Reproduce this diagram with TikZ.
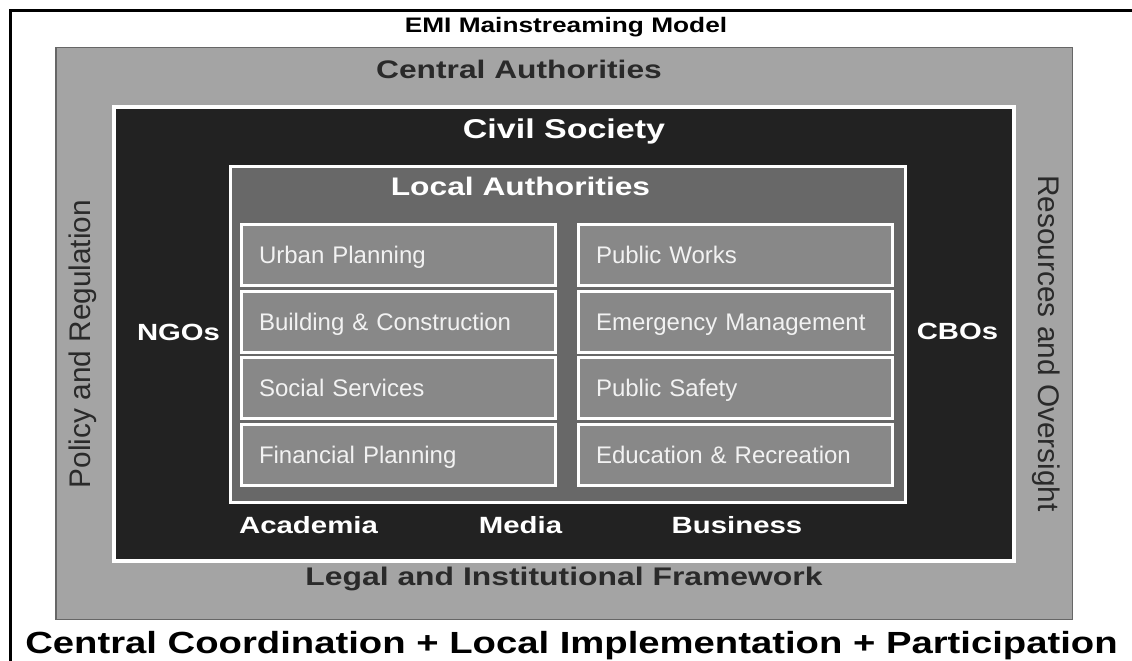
\documentclass[tikz,border=0pt]{standalone}
\usepackage{fontspec}
\setmainfont{Liberation Sans}
\newfontfamily\widebf{Liberation Sans}[FakeStretch=1.25]

\definecolor{frame}{HTML}{A4A4A4}
\definecolor{civil}{HTML}{222222}
\definecolor{local}{HTML}{686868}
\definecolor{unit}{HTML}{888888}
\definecolor{ink}{HTML}{2A2A2A}
\newcommand{\fsz}[1]{\fontsize{#1}{#1}\selectfont}

\tikzset{
	heading/.style={anchor=base, inner sep=0pt, font=\widebf\bfseries\fsz{#1}},
	side/.style={anchor=base, inner sep=0pt, text=ink, font=\fsz{29.8}},
	unitbox/.style={draw=white, line width=3pt, fill=unit, text=white!95!black,
		minimum height=61pt, text width=279pt, inner xsep=17.5pt, inner ysep=0pt,
		text height=17.3pt, text depth=0pt, align=left, font=\fsz{24}}
}

\begin{document}
\begin{tikzpicture}[x=1pt,y=-1pt]
	\useasboundingbox (0,0) rectangle (1132,661);
	\draw[line width=3pt] (1132,10.5) -- (10.5,10.5) -- (10.5,661);
	% nested frames
	\filldraw[fill=frame, draw=black!60, line width=1.5pt] (55.75,47.75) rectangle (1072.25,619.25);
	\filldraw[fill=civil, draw=white, line width=4pt] (114,107) rectangle (1014,561);
	\filldraw[fill=local, draw=white, line width=3pt] (230.5,166.5) rectangle (905.5,502.5);
	% departments
	\foreach \name [count=\i from 0] in {Urban Planning, Building \& Construction, Social Services, Financial Planning}
		\node[unitbox] (unitL\i) at (398.5,255+66.67*\i) {\name};
	\foreach \name [count=\i from 0] in {Public Works, Emergency Management, Public Safety, Education \& Recreation}
		\node[unitbox] (unitR\i) at (735.5,255+66.67*\i) {\name};
	% labels
	\node[heading=21] (title) at (566,33) {EMI Mainstreaming Model};
	\node[heading=25.4, text=ink] (central) at (519,78) {Central Authorities};
	\node[heading=27.2, text=white] (civil) at (564,138) {Civil Society};
	\node[heading=25.4, text=white] (localauth) at (520.5,195) {Local Authorities};
	\node[heading=23.4, text=white] (ngo) at (178.5,340) {NGOs};
	\node[heading=23.4, text=white] (cbo) at (957.5,339) {CBOs};
	\node[heading=23.5, text=white] (academia) at (308.5,533) {Academia};
	\node[heading=23.5, text=white] (media) at (520.5,533) {Media};
	\node[heading=23.5, text=white] (business) at (737,533) {Business};
	\node[heading=25.5, text=ink] (legal) at (564,585) {Legal and Institutional Framework};
	\node[side, rotate=90] (policy) at (90,344) {Policy and Regulation};
	\node[side, rotate=-90] (oversight) at (1038,343.5) {Resources and Oversight};
	\node[heading=30.6] (motto) at (571.5,653) {Central Coordination + Local Implementation + Participation};
\end{tikzpicture}
\end{document}
